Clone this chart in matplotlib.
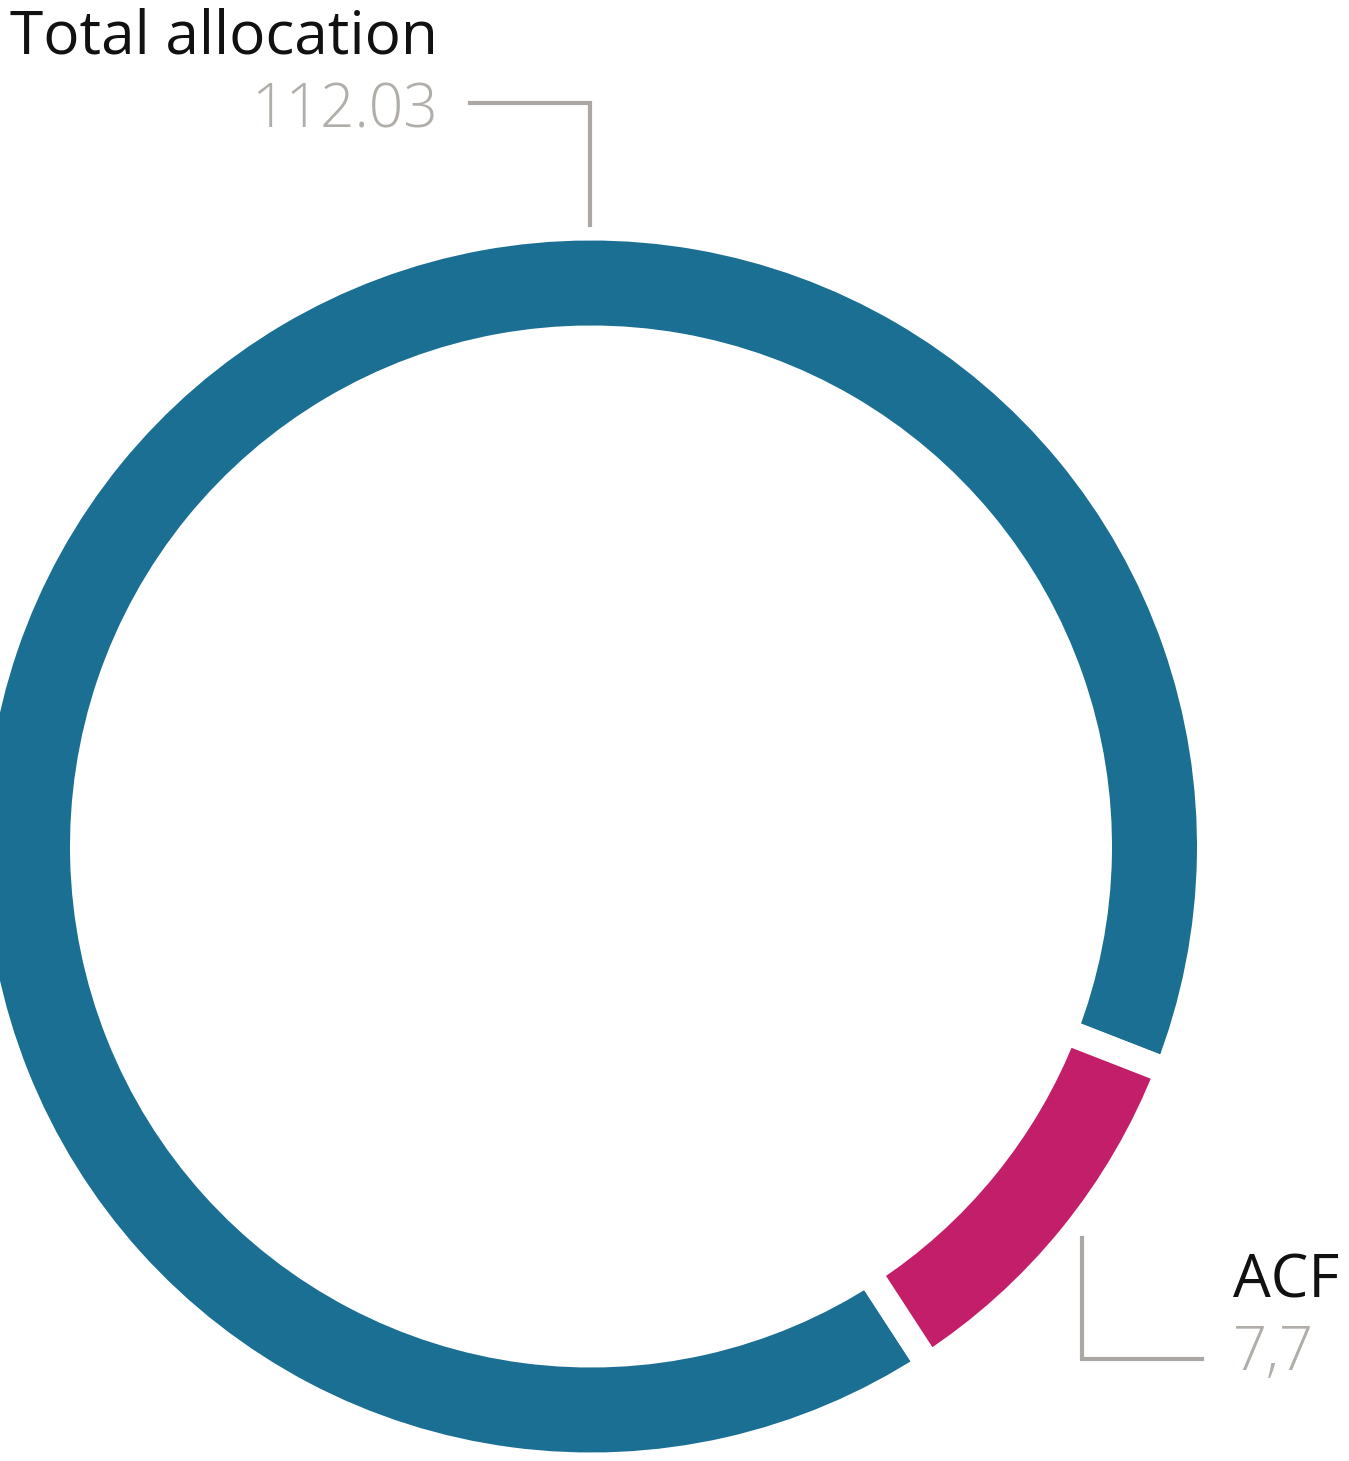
import matplotlib.pyplot as plt

plt.rcParams['font.family'] = ['Open Sans', 'DejaVu Sans']

# data
labels = ["Total allocation", "ACF"]
value_text = ["112.03", "7,7"]
share_pct = [90.1, 9.9]          # arc share of the ring, as drawn
colors = ["#1a6f92", "#c31e6a"]

W, H = 1349, 1461
fig = plt.figure(figsize=(W / 100, H / 100), dpi=100)
ax = fig.add_axes([0, 0, 1, 1])

cx, cy = 591, H - 846.5
gap = 26  # px, white gap between slices
ax.pie(share_pct, colors=colors, startangle=-21.3, counterclock=True,
       center=(cx, cy), radius=606 + gap / 2,
       wedgeprops=dict(width=85 + gap, edgecolor="white",
                       linewidth=gap * 72 / 100))

ax.set_xlim(0, W)
ax.set_ylim(0, H)
ax.set_aspect("equal")
ax.axis("off")

grey_line = "#aba7a3"
grey_text = "#b1ada9"

# top label
ax.text(438, H - 54, labels[0], fontsize=43.5, color="#111111",
        ha="right", va="baseline")
ax.text(438, H - 127, value_text[0], fontsize=43.5, color=grey_text,
        ha="right", va="baseline", fontweight="light")
ax.plot([470, 590, 590], [H - 103, H - 103, H - 225],
        color=grey_line, lw=3, solid_joinstyle="miter")

# ACF label
ax.text(1233, H - 1298, labels[1], fontsize=43, color="#111111",
        ha="left", va="baseline")
ax.text(1233, H - 1370, value_text[1], fontsize=43, color=grey_text,
        ha="left", va="baseline", fontweight="light")
ax.plot([1082, 1082, 1202], [H - 1238, H - 1359, H - 1359],
        color=grey_line, lw=3, solid_joinstyle="miter")

fig.savefig("out.png", dpi=100)
